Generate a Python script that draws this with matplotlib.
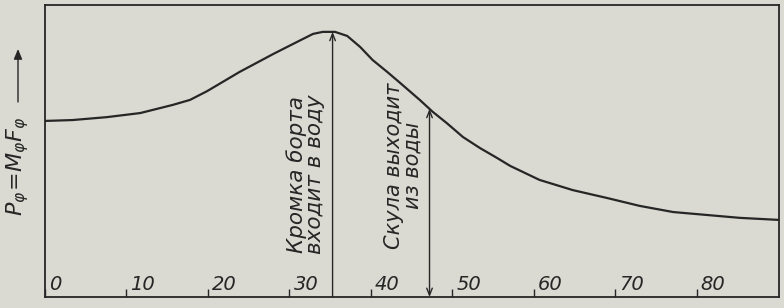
import numpy as np
import matplotlib
matplotlib.use('Agg')
import matplotlib.pyplot as plt
from matplotlib.patches import FancyArrowPatch

# кривая Pφ по углу
angle = [0.0, 3.4, 7.6, 11.7, 15.7, 17.8, 19.9, 23.9, 28.0, 30.9, 32.9, 34.1,
         35.6, 37.1, 38.7, 40.2, 42.0, 43.6, 46.0, 47.6, 49.3, 51.3, 53.4,
         55.5, 57.1, 60.7, 64.8, 69.0, 73.0, 77.1, 81.2, 85.3, 90.1]
p_phi = [60.3, 60.6, 61.6, 63.0, 65.8, 67.5, 70.5, 77.1, 83.2, 87.3, 90.1, 90.8,
         90.8, 89.4, 85.6, 81.2, 77.1, 73.3, 67.5, 63.4, 59.6, 54.8, 51.0,
         47.6, 44.9, 40.1, 36.6, 33.9, 31.2, 29.1, 28.1, 27.1, 26.4]

xticks = [0, 10, 20, 30, 40, 50, 60, 70, 80]
xtick_labels = ['0', '10', '20', '30', '40', '50', '60', '70', '80']

# отметки: кромка борта входит в воду / скула выходит из воды
mark_x = [35.3, 47.2]
mark_text = ['Кромка борта\nвходит в воду', 'Скула выходит\nиз воды']

bg = '#dadad2'
ink = '#262626'

fig = plt.figure(figsize=(7.84, 3.08), dpi=100, facecolor=bg)
ax = fig.add_axes([45 / 784, 11 / 308, (779 - 45) / 784, (303 - 11) / 308])
ax.set_facecolor(bg)

ax.plot(angle, p_phi, color=ink, lw=1.6)

ax.set_xlim(0, 90.1)
ax.set_ylim(0, 100)
ax.set_xticks(xticks)
ax.set_yticks([])
ax.tick_params(axis='x', direction='in', length=6, width=1.0, color=ink,
               labelbottom=False)
for s in ax.spines.values():
    s.set_color(ink)
    s.set_linewidth(1.3)

for t, lab in zip(xticks, xtick_labels):
    ax.text(t + 0.5, 1.0, lab, ha='left', va='bottom', fontsize=14,
            style='italic', color=ink)

# стрелки
top1 = np.interp(mark_x[0], angle, p_phi)
ax.annotate('', xy=(mark_x[0], top1), xytext=(mark_x[0], 0),
            arrowprops=dict(arrowstyle='->,head_length=0.5,head_width=0.2',
                            color=ink, lw=1.0, shrinkA=0, shrinkB=0))
top2 = np.interp(mark_x[1], angle, p_phi)
ax.annotate('', xy=(mark_x[1], top2), xytext=(mark_x[1], 0),
            arrowprops=dict(arrowstyle='<->,head_length=0.5,head_width=0.2',
                            color=ink, lw=1.0, shrinkA=0, shrinkB=0))

ax.text(mark_x[0] - 0.9, 42, mark_text[0], rotation=90, ha='right', va='center',
        multialignment='center', fontsize=15.5, style='italic', color=ink,
        linespacing=0.9)
ax.text(mark_x[1] - 0.9, 45, mark_text[1], rotation=90, ha='right', va='center',
        multialignment='center', fontsize=15, style='italic', color=ink,
        linespacing=0.9)

# подпись оси
fig.text(18 / 784, 0.46, r'$P_\varphi\!=\!M_\varphi F_\varphi$', rotation=90,
         ha='center', va='center', fontsize=16, color=ink)
fig.add_artist(FancyArrowPatch(
    (18 / 784, 0.66), (18 / 784, 0.85), transform=fig.transFigure,
    arrowstyle='-|>,head_length=6,head_width=2.5', color=ink, lw=1.0))

plt.savefig('out.png', dpi=100, facecolor=bg)
